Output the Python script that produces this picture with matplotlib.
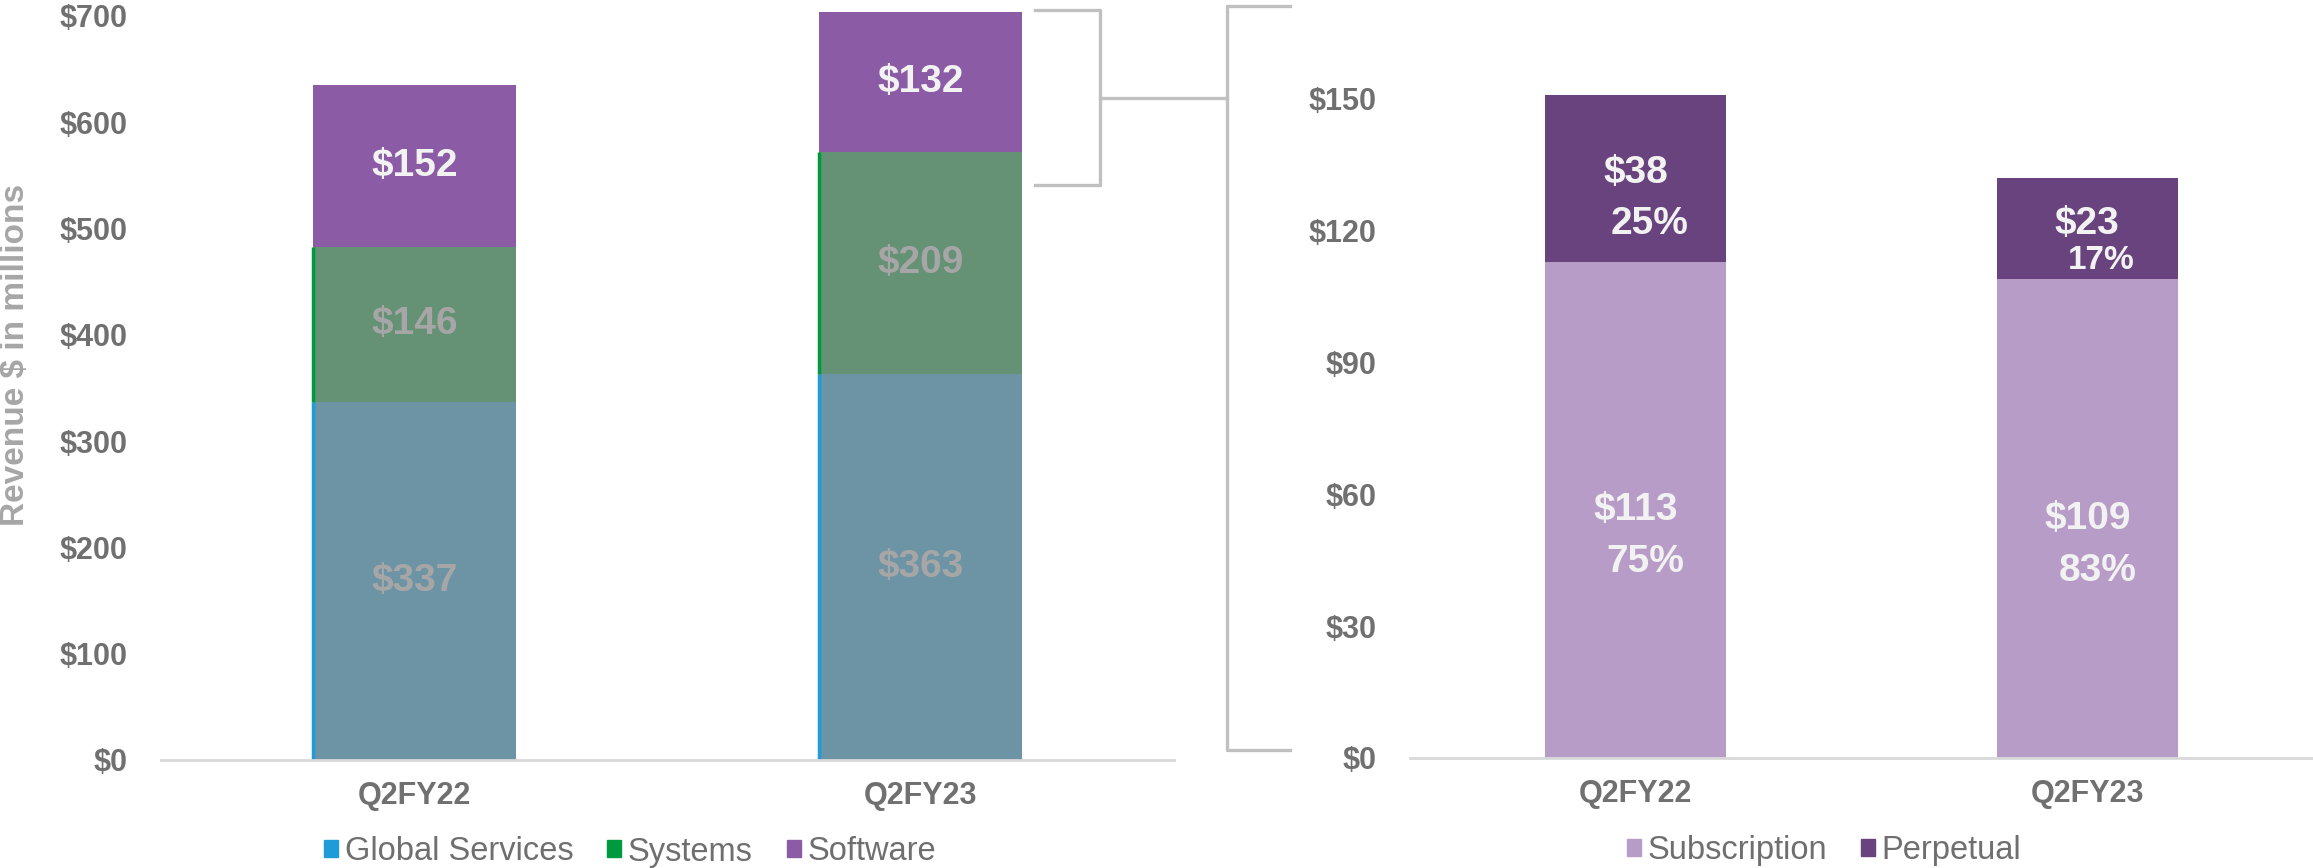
import matplotlib
matplotlib.use("Agg")
import matplotlib.pyplot as plt
import numpy as np
from matplotlib.lines import Line2D
from matplotlib.patches import Patch

# dados (milhoes de dolares)
quarters = ["Q2FY22", "Q2FY23"]
global_services = [337, 363]
systems = [146, 209]
software = [152, 132]

subscription = [113, 109]
perpetual = [38, 23]
subscription_pct = ["75%", "83%"]
perpetual_pct = ["25%", "17%"]

left_ticks = [0, 100, 200, 300, 400, 500, 600, 700]
right_ticks = [0, 30, 60, 90, 120, 150]

plt.rcParams['font.family'] = ['Liberation Sans', 'DejaVu Sans']

W, H = 2313, 868
GRAY = '#707070'
LIGHT = '#F2F2F2'
MUTED = '#A6A6A6'


def box(x0, y0, x1, y1):
    # caixa em pixels (origem no topo) -> fracoes da figura
    return [x0 / W, 1 - y1 / H, (x1 - x0) / W, (y1 - y0) / H]


def style_axes(ax, ticks, ypad):
    for s in ['top', 'right', 'left']:
        ax.spines[s].set_visible(False)
    ax.spines['bottom'].set_color('#D9D9D9')
    ax.spines['bottom'].set_linewidth(2)
    ax.set_xlim(-0.5, 1.5)
    ax.set_xticks(np.arange(len(quarters)))
    ax.set_xticklabels(quarters, fontsize=22, fontweight='bold', color=GRAY)
    ax.set_yticks(ticks)
    ax.set_yticklabels([f"${t}" for t in ticks], fontsize=22, fontweight='bold', color=GRAY)
    ax.tick_params(axis='y', length=0, pad=ypad)
    ax.tick_params(axis='x', length=0, pad=15)


fig = plt.figure(figsize=(W / 100, H / 100), dpi=100)
x = np.arange(len(quarters))
w = 0.4

# grafico da esquerda
ax1 = fig.add_axes(box(161, 16, 1174, 760))
bottom2 = np.array(global_services)
bottom3 = bottom2 + np.array(systems)
ax1.bar(x, global_services, w, color='#6D94A5', clip_on=False)
ax1.bar(x, systems, w, bottom=bottom2, color='#659175', clip_on=False)
ax1.bar(x, software, w, bottom=bottom3, color='#8B5CA5', clip_on=False)
ax1.vlines(x - w / 2, 0, bottom2, color='#1F9BD7', lw=2.5)
ax1.vlines(x - w / 2, bottom2, bottom3, color='#009A3E', lw=2.5)
ax1.set_ylim(0, 700)
style_axes(ax1, left_ticks, 24)

for i in range(len(quarters)):
    ax1.text(x[i], global_services[i] / 2, f"${global_services[i]}", ha='center', va='center',
             fontsize=28, fontweight='bold', color=MUTED)
    ax1.text(x[i], bottom2[i] + systems[i] / 2, f"${systems[i]}", ha='center', va='center',
             fontsize=28, fontweight='bold', color=MUTED)
    ax1.text(x[i], bottom3[i] + software[i] / 2, f"${software[i]}", ha='center', va='center',
             fontsize=28, fontweight='bold', color=LIGHT)

fig.text(16 / W, 1 - 355 / H, "Revenue $ in millions", rotation=90, ha='center', va='center',
         fontsize=24, fontweight='bold', color=MUTED)

h1 = [Patch(color='#1F9BD7'), Patch(color='#009A3E'), Patch(color='#8B5CA5')]
fig.legend(h1, ["Global Services", "Systems", "Software"], loc='center',
           bbox_to_anchor=(630 / W, 1 - 852 / H), ncol=3, frameon=False, fontsize=23.5,
           handlelength=0.42, handleheight=0.42, handletextpad=0.2, columnspacing=1.05,
           labelcolor='#6F6F6F')

# grafico da direita (detalhe de software)
ax2 = fig.add_axes(box(1410, 55, 2313, 758))
ax2.bar(x, subscription, w, color='#B89CC8', clip_on=False)
ax2.bar(x, perpetual, w, bottom=subscription, color='#68437D', clip_on=False)
ax2.set_ylim(0, 160)
style_axes(ax2, right_ticks, 24)

pct_sizes = [28, 24]
pct_drop = [-46, -32]
for i in range(len(quarters)):
    yc = subscription[i] / 2
    ax2.annotate(f"${subscription[i]}", (x[i], yc), xytext=(0, 0), textcoords='offset pixels',
                 ha='center', va='center', fontsize=28, fontweight='bold', color=LIGHT)
    ax2.annotate(subscription_pct[i], (x[i], yc), xytext=(10, -52), textcoords='offset pixels',
                 ha='center', va='center', fontsize=28, fontweight='bold', color=LIGHT)
    yc = subscription[i] + perpetual[i] / 2
    ax2.annotate(f"${perpetual[i]}", (x[i], yc), xytext=(0, 5), textcoords='offset pixels',
                 ha='center', va='center', fontsize=28, fontweight='bold', color=LIGHT)
    ax2.annotate(perpetual_pct[i], (x[i], yc), xytext=(14, pct_drop[i]),
                 textcoords='offset pixels', ha='center', va='center',
                 fontsize=pct_sizes[i], fontweight='bold', color=LIGHT)

h2 = [Patch(color='#B89CC8'), Patch(color='#68437D')]
fig.legend(h2, ["Subscription", "Perpetual"], loc='center',
           bbox_to_anchor=(1824 / W, 1 - 851 / H), ncol=2, frameon=False, fontsize=23.5,
           handlelength=0.42, handleheight=0.42, handletextpad=0.2, columnspacing=1.05,
           labelcolor='#6F6F6F')

# colchete ligando os graficos
brackets = [
    [(1035, 10), (1100, 10), (1100, 185), (1035, 185)],
    [(1100, 98), (1227, 98)],
    [(1290, 6), (1227, 6), (1227, 750), (1290, 750)],
]
for seg in brackets:
    xs = [p[0] / W for p in seg]
    ys = [1 - p[1] / H for p in seg]
    fig.add_artist(Line2D(xs, ys, color='#C0C0C0', lw=2.4, transform=fig.transFigure))

fig.savefig("out.png", dpi=100)
